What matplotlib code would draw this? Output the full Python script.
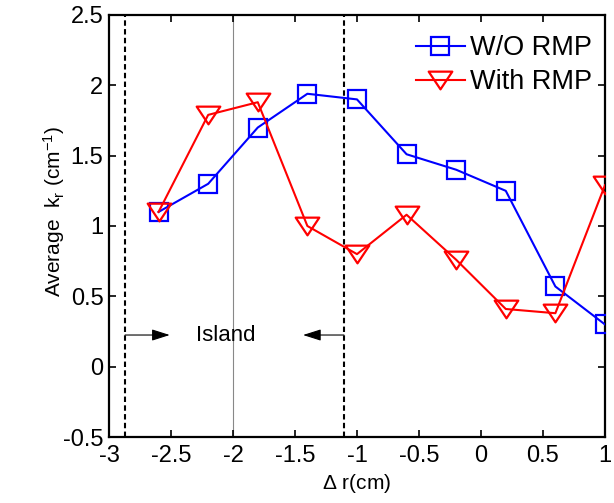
import matplotlib
matplotlib.use("Agg")
import matplotlib.pyplot as plt
from matplotlib.path import Path
import numpy as np

plt.rcParams['font.family'] = ['Liberation Sans', 'DejaVu Sans']
plt.rcParams['mathtext.fontset'] = 'custom'
plt.rcParams['mathtext.rm'] = 'Liberation Sans'
plt.rcParams['mathtext.it'] = 'Liberation Sans:italic'

# Data
dr = [-2.6, -2.2, -1.8, -1.4, -1.0, -0.6, -0.2, 0.2, 0.6, 1.0]
kr_without = [1.10, 1.30, 1.70, 1.94, 1.90, 1.51, 1.40, 1.25, 0.57, 0.30]
kr_with = [1.10, 1.79, 1.88, 1.00, 0.80, 1.08, 0.76, 0.41, 0.38, 1.29]
xticks = [-3, -2.5, -2, -1.5, -1, -0.5, 0, 0.5, 1]
yticks = [-0.5, 0, 0.5, 1, 1.5, 2, 2.5]
island_edges = [-2.87, -1.105]
center_line = -2.0

fig = plt.figure(figsize=(6.14, 5.03), dpi=100)
ax = fig.add_axes([0.1775, 0.1312, 0.8078, 0.8390])

tri = Path([(0, -0.75), (-1, 0.75), (1, 0.75), (0, -0.75)],
           [Path.MOVETO, Path.LINETO, Path.LINETO, Path.CLOSEPOLY])

ax.plot(dr, kr_without, color='#0000ff', lw=1.5, marker='s', ms=12.5,
        mfc='none', mec='#0000ff', mew=1.6, label='W/O RMP', zorder=3)
ax.plot(dr, kr_with, color='#ff0000', lw=1.5, marker=tri, ms=17,
        mfc='none', mec='#ff0000', mew=1.6, label='With RMP', zorder=3)

ax.axvline(center_line, color='#888888', lw=0.8, zorder=1)
for xe in island_edges:
    ax.axvline(xe, color='black', lw=1.5, ls=(0, (2.6, 1.6)), zorder=1)

arrow_style = '-|>,head_length=1.1,head_width=0.35'
ax.annotate('', xy=(-2.51, 0.225), xytext=(island_edges[0], 0.225),
            arrowprops=dict(arrowstyle=arrow_style, color='black', lw=0.8,
                            shrinkA=0, shrinkB=0))
ax.annotate('', xy=(-1.435, 0.225), xytext=(island_edges[1], 0.225),
            arrowprops=dict(arrowstyle=arrow_style, color='black', lw=0.8,
                            shrinkA=0, shrinkB=0))
ax.text(-2.056, 0.225, 'Island', ha='center', va='center', fontsize=16)

ax.set_xlim(-3, 1)
ax.set_ylim(-0.5, 2.5)
ax.set_xticks(xticks)
ax.set_yticks(yticks)
ax.set_xticklabels(['%g' % t for t in xticks])
ax.set_yticklabels(['%g' % t for t in yticks])
ax.tick_params(direction='in', top=True, right=True, length=5, width=1.2,
               labelsize=17)
ax.tick_params(axis='x', pad=6)
ax.tick_params(axis='y', pad=4)
for s in ax.spines.values():
    s.set_linewidth(1.6)

ax.set_xlabel(r'$\Delta$ r(cm)', fontsize=15, labelpad=3)
ax.set_ylabel(r'Average  k$_\mathrm{r}$ (cm$^{-1}$)', fontsize=15)
ax.yaxis.set_label_coords(-0.085, 0.535)

leg = ax.legend(loc='upper right', bbox_to_anchor=(0.974, 0.952),
                frameon=False, fontsize=19.5,
                handlelength=1.8, handletextpad=0.2, labelspacing=0.3,
                borderaxespad=0.0, borderpad=0.0)

fig.savefig('out.png', dpi=100)
